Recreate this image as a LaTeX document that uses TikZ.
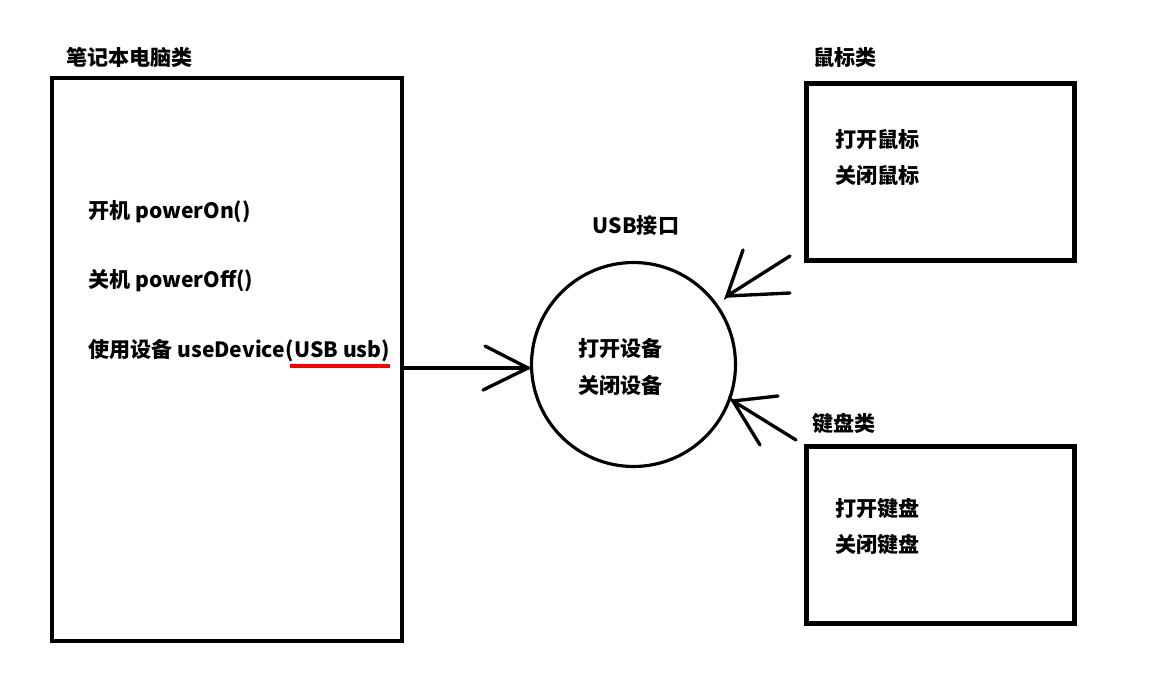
\documentclass[tikz,border=0pt]{standalone}
\usepackage{fontspec}
\setmainfont{Noto Sans CJK SC}
\usetikzlibrary{positioning}

\begin{document}
\begin{tikzpicture}[x=0.02cm, y=-0.02cm,
    cls/.style={draw, line width=2.6pt, inner sep=0pt},
    iface/.style={draw, circle, line width=1.8pt, inner sep=0pt, minimum size=4.08cm},
    txt/.style={anchor=base west, inner sep=0pt, font=\fontsize{12}{14}\selectfont\bfseries},
    wire/.style={line width=1.9pt, line cap=round},
    redline/.style={draw=red, line width=1.9pt}
]
\useasboundingbox (0,0) rectangle (1166,673);

% ------------------------------------------------------------
% laptop class
% ------------------------------------------------------------
\node[txt] (Tlap) at (66,65) {笔记本电脑类};
\node[cls, minimum width=7.0cm, minimum height=11.26cm] (lap) at (227,359.5) {};

\node[txt] (on)  at (88,218) {开机 powerOn()};
\node[txt] (off) at (88,287) {关机 powerOff()};
\node[txt] (dev) at (88,357) {使用设备 useDevice};
\node[txt] (arg) at (dev.base east) {(USB usb)};
\draw[redline] ([xshift=0.1cm,yshift=-0.18cm]arg.base west) -- ([yshift=-0.18cm]arg.base east);

% ------------------------------------------------------------
% USB interface
% ------------------------------------------------------------
\node[txt, anchor=base] (Tusb) at (636,233) {USB接口};
\node[iface] (usb) at (633.5,364.5) {};
\node[txt] (uopen)  at (578,356) {打开设备};
\node[txt] (uclose) at (578,393) {关闭设备};

% ------------------------------------------------------------
% mouse and keyboard classes
% ------------------------------------------------------------
\node[txt] (Tms) at (813,65) {鼠标类};
\node[cls, minimum width=5.36cm, minimum height=3.54cm] (ms) at (940.5,172) {};
\node[txt] (mopen)  at (835,147) {打开鼠标};
\node[txt] (mclose) at (835,183) {关闭鼠标};

\node[txt] (Tkb) at (812,431) {键盘类};
\node[cls, minimum width=5.36cm, minimum height=3.54cm] (kb) at (940.5,535) {};
\node[txt] (kopen)  at (835,516) {打开键盘};
\node[txt] (kclose) at (835,552) {关闭键盘};

% ------------------------------------------------------------
% arrows (hand drawn barbs)
% ------------------------------------------------------------
\coordinate (tipL) at (528,368);
\coordinate (bL1) at (485,346);
\coordinate (bL2) at (483,390);
\draw[wire] (lap.east |- tipL) -- (tipL);
\draw[wire] (bL1) -- (tipL) -- (bL2);

\coordinate (tipM) at (727,296);
\coordinate (sM)  at (790,293);
\coordinate (bM1) at (743,250);
\coordinate (bM2) at (790,256);
\draw[wire] (sM) -- (tipM);
\draw[wire] (bM1) -- (tipM) -- (bM2);

\coordinate (tipK) at (733,401);
\coordinate (sK)  at (778,396);
\coordinate (bK1) at (760,445);
\coordinate (bK2) at (796,440);
\draw[wire] (sK) -- (tipK);
\draw[wire] (bK1) -- (tipK) -- (bK2);
\end{tikzpicture}
\end{document}
